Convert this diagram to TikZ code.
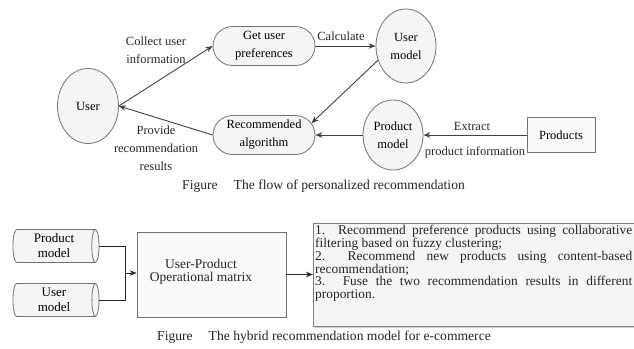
\documentclass[tikz,border=0pt]{standalone}
\usepackage{fontspec}
\setmainfont{Liberation Serif}
\usetikzlibrary{shapes.geometric,shapes.misc,arrows.meta}

\begin{document}
\begin{tikzpicture}[x=1pt,y=-1pt,
  flow/.style={draw=black!75, line width=0.9pt, -{Stealth[length=7pt,width=5.5pt]}},
  wire/.style={draw=black!85, line width=1pt},
  oval/.style={ellipse, draw=black!55, line width=0.8pt, fill=black!4, align=center,
    inner sep=0pt, font=\fontsize{12.5}{18}\selectfont},
  pill/.style={rounded rectangle, draw=black!55, line width=0.8pt, fill=black!4,
    minimum width=102pt, minimum height=39pt, align=center, inner sep=0pt,
    font=\fontsize{12.5}{18}\selectfont},
  plainbox/.style={rectangle, draw=black!55, line width=0.8pt, fill=black!2,
    inner sep=0pt},
  drum/.style={cylinder, draw=black!55, line width=0.8pt, fill=black!4, aspect=0.3,
    minimum width=33pt, minimum height=86pt, align=center, inner sep=0pt,
    font=\fontsize{13}{15}\selectfont},
  lbl/.style={align=center, inner sep=0pt, text=black!85,
    font=\fontsize{12.5}{18}\selectfont},
  captext/.style={anchor=west, inner sep=0pt, text=black!85,
    font=\fontsize{13.6}{16}\selectfont},
]
\useasboundingbox (0,0) rectangle (634,348);
\fill[white] (0,0) rectangle (634,348);

% ---- flow of personalized recommendation ----
\node[oval, minimum width=61pt, minimum height=75pt] (user) at (88,106) {User};
\node[pill] (pref) at (264,46) {Get user\\preferences};
\node[oval, minimum width=60pt, minimum height=74pt] (umodel) at (406,46) {User\\model};
\node[pill] (algo) at (264,135) {Recommended\\algorithm};
\node[oval, minimum width=60pt, minimum height=70pt] (pmodel) at (393,135) {Product\\model};
\node[plainbox, minimum width=68pt, minimum height=35pt,
      font=\fontsize{12.5}{15}\selectfont] (prod) at (561,135) {Products};

\draw[flow] (user.east) -- (pref.west);
\draw[flow] (pref.east) -- (umodel.west);
\draw[flow] (umodel.207) -- (algo.14);
\draw[flow] (pmodel.west) -- (algo.east);
\draw[flow] (prod.west) -- (pmodel.east);
\draw[flow] (algo.west) -- (user.east);

\node[lbl] (lcollect) at (156,50) {Collect user\\information};
\node[lbl] (lprovide) at (156,148) {Provide\\recommendation\\results};
\node[lbl] (lcalc) at (341,36) {Calculate};
\node[lbl] (lextract) at (472,126) {Extract};
\node[lbl] (lpinfo) at (475,152) {product information};

\node[captext] (cap1) at (182,186) {Figure\hspace{16pt}The flow of personalized recommendation};

% ---- hybrid recommendation model ----
\node[drum] (pcyl) at (54,246) {Product\\model};
\node[drum] (ucyl) at (54,300) {User\\model};
\node[plainbox, minimum width=149pt, minimum height=85pt] (matrix) at (211.5,274.5) {};
\node[align=center, inner sep=0pt, font=\fontsize{13.5}{13}\selectfont, text=black!85]
  (mtext) at (201,272) {User-Product\\Operational matrix};

\coordinate (join) at (125,273);
\draw[wire] (pcyl.east) -| (join);
\draw[wire] (ucyl.east) -| (join);
\draw[flow, draw=black!85] (join) -- (matrix.west |- join);

% list of recommendation steps (the box runs past the right edge)
\fill[black!18] (314.5,224.5) rectangle (652,327.5);
\node[plainbox, draw=black!50, line width=1pt, fill=black!4, anchor=north west,
      minimum width=337pt, minimum height=103pt] (steps) at (313,223) {};
\node[anchor=north west, inner sep=0pt, text=black!85,
      font=\fontsize{13.4}{12.8}\selectfont] (stepstext) at (315,225)
  {\parbox[t]{317pt}{%
   \makebox[317pt][s]{1. Recommend preference products using collaborative}\\
   filtering based on fuzzy clustering;\\
   \makebox[317pt][s]{2.\ \ Recommend new products using content-based}\\
   recommendation;\\
   \makebox[317pt][s]{3. Fuse the two recommendation results in different}\\
   proportion.}};
\draw[flow, draw=black!85] (matrix.east) -- (steps.west |- matrix.east);

\node[captext] (cap2) at (157,337) {Figure\hspace{16pt}The hybrid recommendation model for e-commerce};
\end{tikzpicture}
\end{document}
